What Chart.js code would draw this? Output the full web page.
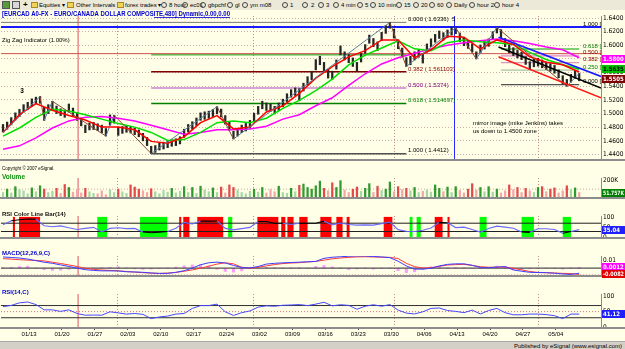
<!DOCTYPE html>
<html>
<head>
<meta charset="utf-8">
<script src="https://cdn.jsdelivr.net/npm/chart.js@4.4.1/dist/chart.umd.min.js"></script>
<style>
html, body { margin: 0; padding: 0; }
body { width: 625px; height: 349px; overflow: hidden; position: relative; background: #d4d0c8; font-family: "Liberation Sans", Arial, sans-serif; }
#toolbar { position: absolute; left: 0; top: 0; width: 625px; height: 10px; background: #ece9d8; font-size: 6px; line-height: 10px; color: #000; }
#toolbar span { position: absolute; top: 0; white-space: nowrap; }
#toolbar .ic { top: 2px; width: 6px; height: 6px; border: 1px solid #444; border-radius: 50%; box-sizing: border-box; }
#toolbar .fd { top: 2px; width: 7px; height: 6px; background: #f2d25a; border: 1px solid #a88a20; box-sizing: border-box; }
#toolbar .sq { top: 1px; width: 8px; height: 8px; box-sizing: border-box; border: 1px solid #555; }
#paper { position: absolute; left: 0; top: 10px; width: 625px; height: 331px; background: #fffee6; }
canvas { position: absolute; left: 0; }
#foot { position: absolute; left: 0; top: 341px; width: 625px; height: 8px; background: #d4d0c8; border-top: 1px solid #a8a8a8; }
#foot span { position: absolute; right: 3px; top: 0; font-size: 6px; line-height: 8px; color: #000; }
</style>
</head>
<body>
<div id="toolbar">
  <span class="sq" style="left:2px;background:#5a9a3a"></span>
  <span class="sq" style="left:12px;background:#d8d8d8"></span>
  <span style="left:23px;font-weight:bold;font-size:8px">+</span>
  <span class="fd" style="left:31px"></span><span style="left:39px">Equities ▾</span>
  <span class="fd" style="left:67px"></span><span style="left:76px">Other Intervals ▾</span>
  <span class="fd" style="left:117px"></span><span style="left:125px">forex trades ▾</span>
  <span class="ic" style="left:161px"></span><span style="left:169px">8 hour</span>
  <span class="ic" style="left:182px"></span><span style="left:190px">ec01</span>
  <span class="ic" style="left:200px"></span><span style="left:208px">gbpchf</span>
  <span class="ic" style="left:227px"></span><span style="left:235px">gl</span>
  <span class="ic" style="left:242px"></span><span style="left:250px">ym m08</span>
  <span class="ic" style="left:282px"></span><span style="left:290px">1</span>
  <span class="ic" style="left:302px"></span><span style="left:311px">2</span>
  <span class="ic" style="left:318px"></span><span style="left:326px">3</span>
  <span class="ic" style="left:333px"></span><span style="left:341px">4 min</span>
  <span class="ic" style="left:357px"></span><span style="left:365px">5</span>
  <span class="ic" style="left:370px"></span><span style="left:378px">10 min</span>
  <span class="ic" style="left:396px"></span><span style="left:404px">15</span>
  <span class="ic" style="left:413px"></span><span style="left:421px">20</span>
  <span class="ic" style="left:429px"></span><span style="left:437px">60</span>
  <span class="ic" style="left:446px"></span><span style="left:454px">Daily</span>
  <span class="ic" style="left:469px"></span><span style="left:477px">hour 2</span>
  <span class="ic" style="left:494px"></span><span style="left:502px">hour 4</span>
</div>
<div id="paper"></div>
<canvas id="price" width="625" height="162" style="top:10px"></canvas>
<canvas id="volume" width="625" height="38" style="top:172px"></canvas>
<canvas id="rsibar" width="625" height="40" style="top:210px"></canvas>
<canvas id="macd" width="625" height="38" style="top:250px"></canvas>
<canvas id="rsi" width="625" height="52" style="top:288px"></canvas>
<div id="foot"><span>Published by eSignal (www.esignal.com)</span></div>
<script>
// ---- data (x unit = one 8-hour bar as sampled, 8 per week) ----
var dateLabels = ['01/13','01/20','01/27','02/03','02/10','02/17','02/24','03/02','03/09','03/16','03/23','03/30','04/06','04/13','04/20','04/27','05/04'];
var firstLabelBar = 6.33;
var barsPerWeek = 8;
var monthBars = [27.7, 60.8, 94.9, 129.9];
var markerBar = 18.25;
var blueMarkBar = 109.5;

var highs = [1.4840,1.4875,1.4940,1.5010,1.5060,1.5130,1.5165,1.5215,1.5240,1.5250,
  1.5090,1.5130,1.5180,1.5110,1.5070,1.5050,1.5140,1.5080,1.5010,1.4935,
  1.4830,1.4860,1.4870,1.4850,1.4830,1.4780,1.4980,1.4975,1.4800,1.4810,
  1.4825,1.4810,1.4785,1.4760,1.4710,1.4650,1.4520,1.4530,1.4565,1.4580,
  1.4600,1.4615,1.4630,1.4660,1.4770,1.4840,1.4880,1.4935,1.5010,1.5025,
  1.5035,1.5060,1.5100,1.5065,1.4970,1.4875,1.4740,1.4780,1.4830,1.4855,
  1.4900,1.5005,1.5105,1.5180,1.5155,1.5140,1.5105,1.5155,1.5210,1.5290,
  1.5350,1.5375,1.5365,1.5445,1.5540,1.5620,1.5790,1.5840,1.5750,1.5650,
  1.5620,1.5785,1.5990,1.5905,1.5865,1.5815,1.5750,1.5880,1.6010,1.6150,
  1.6100,1.6050,1.6190,1.6290,1.6336,1.6235,1.6080,1.5960,1.5820,1.5840,
  1.5905,1.5940,1.5870,1.6020,1.6095,1.6160,1.6210,1.6185,1.6225,1.6260,
  1.6255,1.6180,1.6110,1.6070,1.6020,1.5905,1.6005,1.6055,1.6095,1.6200,
  1.6262,1.6230,1.6100,1.6005,1.5965,1.5925,1.5900,1.5835,1.5760,1.5795,
  1.5810,1.5785,1.5755,1.5730,1.5705,1.5640,1.5555,1.5500,1.5575,1.5625,
  1.5590];
var lows = [1.4730,1.4770,1.4835,1.4905,1.4955,1.5020,1.5060,1.5110,1.5140,1.5150,
  1.4900,1.5000,1.5060,1.5000,1.4970,1.4945,1.5020,1.4970,1.4900,1.4820,
  1.4720,1.4760,1.4765,1.4750,1.4720,1.4670,1.4830,1.4860,1.4680,1.4710,
  1.4725,1.4715,1.4690,1.4660,1.4600,1.4530,1.4412,1.4430,1.4465,1.4480,
  1.4500,1.4520,1.4530,1.4555,1.4650,1.4730,1.4770,1.4825,1.4900,1.4915,
  1.4930,1.4955,1.4995,1.4950,1.4845,1.4755,1.4627,1.4670,1.4720,1.4745,
  1.4785,1.4885,1.4990,1.5070,1.5045,1.5030,1.4995,1.5045,1.5100,1.5175,
  1.5240,1.5265,1.5190,1.5330,1.5420,1.5495,1.5640,1.5715,1.5625,1.5520,
  1.5500,1.5650,1.5860,1.5785,1.5745,1.5690,1.5620,1.5755,1.5885,1.6030,
  1.5980,1.5925,1.6070,1.6175,1.6250,1.6105,1.5950,1.5830,1.5690,1.5715,
  1.5785,1.5825,1.5740,1.5900,1.5980,1.6045,1.6100,1.6075,1.6115,1.6150,
  1.6170,1.6055,1.5995,1.5955,1.5900,1.5800,1.5890,1.5945,1.5985,1.6085,
  1.6180,1.6110,1.5980,1.5890,1.5850,1.5815,1.5790,1.5720,1.5645,1.5685,
  1.5695,1.5670,1.5645,1.5620,1.5590,1.5525,1.5435,1.5400,1.5460,1.5515,
  1.5480];
// thousands
var volumes = [60,100,55,130,95,80,45,115,70,140,100,60,75,110,50,155,120,65,90,55,
  110,70,50,45,80,35,95,60,100,70,50,150,125,100,80,60,105,70,45,85,
  65,110,55,75,130,60,120,50,135,90,70,115,60,125,55,150,120,90,60,45,
  75,100,65,120,55,95,70,135,60,50,110,70,145,160,120,100,140,195,110,80,
  175,120,200,90,60,100,125,75,110,165,60,135,85,100,185,70,130,95,110,80,
  120,60,75,90,65,150,110,70,125,60,130,85,55,100,165,90,120,70,130,65,
  100,55,80,150,95,120,60,110,80,60,120,130,70,100,115,55,80,140,95,115,60];

// moving averages, one value every 4 bars
var maStep = 4;
var maFast = [1.4723,1.4983,1.5146,1.5049,1.4970,1.4905,1.4801,1.4801,1.4762,1.4592,1.4566,1.4657,1.4866,1.4970,1.4775,1.4801,1.5023,1.5114,1.5296,1.5518,1.5687,1.5831,1.5922,1.6079,1.6079,1.5818,1.5935,1.6131,1.6118,1.5948,1.6079,1.6013,1.5831,1.5753,1.5714,1.5609];
var maMid = [1.4670,1.4788,1.4944,1.5062,1.5036,1.4983,1.4918,1.4853,1.4801,1.4723,1.4605,1.4618,1.4723,1.4866,1.4892,1.4866,1.4931,1.5075,1.5192,1.5335,1.5505,1.5714,1.5857,1.5961,1.6066,1.5948,1.5922,1.6039,1.6079,1.6053,1.6039,1.6013,1.5896,1.5792,1.5714,1.5648];
var maSlow = [1.4475,1.4527,1.4644,1.4788,1.4892,1.4944,1.4957,1.4931,1.4892,1.4827,1.4762,1.4697,1.4723,1.4762,1.4762,1.4775,1.4814,1.4918,1.4983,1.5114,1.5231,1.5414,1.5583,1.5727,1.5818,1.5883,1.5948,1.6000,1.6039,1.6066,1.6092,1.6066,1.6026,1.5974,1.5935,1.5818];

// fibonacci sets and drawn lines
var leftFibFrom = 36, leftFibTo = 98;
var leftFibLevels = [1.6336, 1.5860, 1.5611, 1.5374, 1.5147, 1.4412];
var leftFibText = ['0.000 ( 1.6336)  5', '', '0.382 ( 1.561103)', '0.500 ( 1.5374)', '0.618 ( 1.514697)', '1.000 ( 1.4412)'];
var rightFibFrom = 121, rightFibTo = 140;
var rightFibLevels = [1.6270, 1.5946, 1.5847, 1.5747, 1.5635, 1.5423];
var rightFibText = ['1.000 [', '0.618 [', '0.500 [', '0.382 [', '0.250 [', '0.000 ['];
var resistLevel = 1.5878;
var channelFrom = 120.4, channelTo = 145.3;
var channelBlue = [1.6118, 1.5544];
var channelBlack = [1.5974, 1.5374];
var channelRed = [1.5831, 1.5231];
var zigzag = [[0,1.4723],[9,1.5250],[10,1.4900],[12,1.5180],[25,1.4670],[27,1.4975],[36,1.4412],[52,1.5100],[56,1.4627],[94,1.6336],[98,1.5690],[110,1.6255],[115,1.5800],[120,1.6262],[137,1.5400],[140,1.5590]];

// indicators, one value every 2 bars
var indStep = 2;
var rsiBarVals = [62,82,87,90,89,58,53,57,48,40,45,50,28,45,48,44,45,28,24,27,30,46,74,66,80,80,81,45,38,44,50,78,78,70,70,64,70,70,70,80,62,71,64,61,62,61,68,76,39,31,30,36,47,74,72,49,51,40,27,45,56,51,46,28,26,43,43,40,22,30,39];
var redBands = [[2.4,2.9],[3.9,9.0],[42.8,43.3],[43.8,45.3],[47.2,53.5],[61.8,66.9],[67.6,68.6],[69.1,70.6],[72.0,74.0],[77.1,79.8],[81.0,82.5],[83.5,84.2],[92.5,94.6],[104.9,106.8],[108.0,108.5]];
var greenBands = [[22.9,25.3],[33.3,39.9],[54.7,55.7],[98.8,99.5],[100.5,101.5],[115.8,117.5],[126.0,129.0],[136.0,138.0]];
// MACD in units of 0.001
var macdLine = [14.9,14.2,13.5,12.1,10.0,7.9,6.5,4.4,2.3,0.2,-1.9,-2.9,-3.5,-3.5,-3.6,-4.7,-4.9,-5.4,-6.3,-6.8,-6.8,-5.4,-3.3,0.2,4.6,7.2,8.1,6.9,3.7,0.9,0.4,2.3,5.5,6.5,7.1,7.6,8.0,8.5,9.0,13.1,14.5,15.2,15.8,16.2,16.1,15.5,14.9,14.0,9.3,3.0,-1.2,-1.2,0,3.0,5.1,5.8,5.8,3.9,0.9,0.6,1.6,2.0,-2.2,-4.0,-5.4,-5.7,-5.9,-6.6,-7.6,-8.2,-6.6];
var macdSignal = [12.7,12.0,11.3,10.7,10.3,9.7,7.9,6.2,4.4,2.3,-0.1,-1.5,-2.4,-2.9,-3.5,-4.3,-5.2,-5.9,-6.4,-6.9,-6.4,-5.6,-4.0,-2.2,0,2.7,5.5,7.2,5.8,1.3,0,1.3,3.1,4.8,6.2,6.9,7.3,8.3,9.0,10.7,12.4,13.5,14.3,15.0,15.2,14.9,14.5,14.4,12.8,6.5,2.1,0.2,0.6,2.5,4.2,4.8,5.1,3.7,2.0,1.3,1.4,1.7,-0.1,-2.2,-4.3,-5.6,-5.9,-6.3,-6.8,-7.0,-8.2];
var macdHist = [0.5,1.2,2.2,2.7,0.3,-2.0,-2.8,-2.6,-1.5,-0.6,0.2,-0.3,0.6,1.2,1.9,0.5,-0.8,-1.6,-1.2,-0.4,0.3,1.5,3.2,4.4,4.6,3.0,-1.5,-4.2,-5.2,-3.5,0.5,1.6,1.2,0.8,-0.6,0.5,0.9,-0.4,2.5,3.7,1.8,0.6,-1.9,-1.0,0.3,-1.2,-0.5,0.3,-3.2,-5.9,-4.8,-1.5,2.0,2.3,0.8,0.9,0.6,0.3,-0.5,0.8,2.8,2.2,-2.3,-1.8,-0.8,-0.4,0.2,-0.5,-1.2,0.4,1.2];
var rsiVals = [66.3,70.5,78.9,81.7,73.3,55.9,55.9,50.9,55.9,43.9,38.3,38.9,38.3,49.5,45.9,42,43.9,41.1,27.1,32.7,35.5,42,43.9,60.7,69.9,69.9,74.7,49.5,37.5,46.7,52.3,64.9,69.1,67.7,71,71.9,73.3,69.9,74.7,80.8,69.1,72.7,70.5,57.9,67.7,72.7,67.7,73.3,55.1,45.3,42.5,49.5,60.7,62.1,53.7,50.9,46.7,55.1,42.5,53.7,60.7,46.7,39.7,39.7,42,42,40.3,36.9,27.1,42,42];

var priceTicks = [1.44,1.46,1.48,1.50,1.52,1.54,1.56,1.58,1.60,1.62,1.64];

// ---- drawing ----
var X_MIN = -0.49, X_MAX = 145.3;
var FONT = '"Liberation Sans", "DejaVu Sans", sans-serif';
var NARROW = '"Liberation Sans Narrow", "DejaVu Sans Condensed", "Liberation Sans", sans-serif';

function series(vals, step) {
    return vals.map(function (v, i) { return { x: i * step, y: v }; });
}
function seg(x0, x1, y0, y1, color, width, order, dash) {
    return { type: 'line', data: [{ x: x0, y: y0 }, { x: x1, y: y1 }], borderColor: color,
        borderWidth: width || 1, borderDash: dash || [], pointRadius: 0, order: order || 0 };
}
function curve(data, color, width, order) {
    return { type: 'line', data: data, borderColor: color, borderWidth: width || 1,
        pointRadius: 0, tension: 0, order: order || 0 };
}

var panelPlugin = {
    id: 'panel',
    beforeDatasetsDraw: function (chart, args, o) {
        var ctx = chart.ctx, a = chart.chartArea, x = chart.scales.x;
        ctx.save();
        ctx.beginPath(); ctx.rect(a.left, a.top, a.right - a.left, a.bottom - a.top); ctx.clip();
        (o.bands || []).forEach(function (b) {
            ctx.fillStyle = b.color;
            b.ranges.forEach(function (r) {
                var p0 = x.getPixelForValue(r[0]), p1 = x.getPixelForValue(r[1]);
                ctx.fillRect(p0, a.top + 1, Math.max(2, p1 - p0), a.bottom - a.top - 2);
            });
        });
        ctx.lineWidth = 1; ctx.strokeStyle = '#b88484'; ctx.setLineDash([1, 2]);
        monthBars.forEach(function (m) {
            var p = Math.round(x.getPixelForValue(m)) + 0.5;
            ctx.beginPath(); ctx.moveTo(p, a.top); ctx.lineTo(p, a.bottom); ctx.stroke();
        });
        ctx.setLineDash([]);
        ctx.strokeStyle = '#e88c8c'; ctx.lineWidth = 1.5;
        var p = x.getPixelForValue(markerBar);
        ctx.beginPath(); ctx.moveTo(p, a.top); ctx.lineTo(p, a.bottom); ctx.stroke();
        if (o.blueMark) {
            ctx.strokeStyle = '#2828ff'; ctx.lineWidth = 1;
            p = Math.round(x.getPixelForValue(blueMarkBar)) + 0.5;
            ctx.beginPath(); ctx.moveTo(p, a.top); ctx.lineTo(p, a.bottom); ctx.stroke();
        }
        ctx.restore();
    },
    afterDraw: function (chart, args, o) {
        var ctx = chart.ctx, a = chart.chartArea, x = chart.scales.x, y = chart.scales.y;
        ctx.save();
        ctx.fillStyle = '#8c8c8c';
        ctx.fillRect(0, a.bottom - 1, chart.width, 2);
        ctx.fillRect(a.right, a.top, 1, a.bottom - a.top);
        (o.texts || []).forEach(function (t) {
            ctx.font = t.font || ('6px ' + FONT);
            ctx.fillStyle = t.color || '#000';
            ctx.textAlign = 'left';
            ctx.textBaseline = 'middle';
            var px = t.data ? x.getPixelForValue(t.x) : t.x;
            var py = (t.data ? y.getPixelForValue(t.y) : t.y) + (t.dy || 0);
            if (t.maxWidth) ctx.fillText(t.text, px, py, t.maxWidth); else ctx.fillText(t.text, px, py);
            if (t.underline) {
                ctx.fillRect(px + t.underline[0], py + 3, t.underline[1], 0.8);
            }
        });
        (o.boxes || []).forEach(function (b) {
            var py = Math.round(y.getPixelForValue(b.v));
            ctx.fillStyle = b.bg;
            ctx.fillRect(a.right + 1, py - 4, chart.width - a.right - 1, 8);
            ctx.fillStyle = b.fg;
            ctx.font = 'bold 6px ' + NARROW;
            ctx.textAlign = 'left'; ctx.textBaseline = 'middle';
            ctx.fillText(b.t, a.right + 2, py + 0.5, chart.width - a.right - 3);
        });
        ctx.restore();
    }
};

function makeOptions(yMin, yMax, ticks, fmt, gridOn, panelOpts, showX) {
    return {
        responsive: false, animation: false, devicePixelRatio: 1, events: [],
        layout: { padding: { left: 1, right: 0, top: 0, bottom: 0 }, autoPadding: false },
        plugins: { legend: { display: false }, tooltip: { enabled: false }, panel: panelOpts },
        scales: {
            x: {
                type: 'linear', min: X_MIN, max: X_MAX, offset: false, display: !!showX,
                afterFit: function (s) { s.height = 12; },
                afterBuildTicks: function (s) {
                    s.ticks = dateLabels.map(function (d, i) { return { value: firstLabelBar + barsPerWeek * i }; });
                },
                ticks: { autoSkip: false, maxRotation: 0, padding: 1, color: '#000',
                    font: { size: 6, family: FONT }, callback: function (v, i) { return dateLabels[i]; } },
                grid: { drawOnChartArea: false, tickLength: 2, color: '#444' },
                border: { display: false }
            },
            y: {
                position: 'right', min: yMin, max: yMax,
                afterFit: function (s) { s.width = 24; },
                afterBuildTicks: function (s) { s.ticks = ticks.map(function (v) { return { value: v }; }); },
                ticks: { padding: 2, color: '#000', font: { size: 6.5, family: NARROW }, callback: fmt },
                grid: { display: gridOn, color: '#cfaeae', drawTicks: false, lineWidth: 1 },
                border: { display: false, dash: [1, 2] }
            }
        }
    };
}

// price panel
var leftColors = ['#7a7a7a', '#00a000', '#800000', '#d8a2d8', '#008000', '#505050'];
var leftWidths = [1, 1, 1.5, 2, 1.5, 1.5];
var leftLabelColors = ['#000', '#000', '#800000', '#800080', '#008000', '#000'];
var rightColors = ['#404040', '#00a000', '#e6a8d0', '#d89ab8', '#a8c4a0', '#505050'];
var rightLabelColors = ['#000', '#008000', '#800000', '#800000', '#008000', '#000'];

var priceSets = [];
priceSets.push(seg(X_MIN, X_MAX, rightFibLevels[0], rightFibLevels[0], '#1a1aff', 2, 6));
priceSets.push(seg(X_MIN, X_MAX, resistLevel, resistLevel, '#d05050', 1, 6));
leftFibLevels.forEach(function (v, i) {
    priceSets.push(seg(i === 0 ? X_MIN : leftFibFrom, leftFibTo, v, v, leftColors[i], leftWidths[i], 6));
});
rightFibLevels.forEach(function (v, i) {
    if (i === 0) return;
    priceSets.push(seg(rightFibFrom, rightFibTo, v, v, rightColors[i], i === 2 ? 2 : 1.2, 6));
});
priceSets.push({ type: 'bar', data: highs.map(function (h, i) { return { x: i, y: [lows[i], h] }; }),
    backgroundColor: '#262626', barThickness: 1.6, order: 4 });
priceSets.push(curve(series(maSlow, maStep), '#ff00ff', 1.5, 3));
priceSets.push(curve(series(maMid, maStep), '#00e000', 1.5, 2));
priceSets.push(curve(series(maFast, maStep), '#ff0000', 1.5, 1));
priceSets.push(seg(channelFrom, channelTo, channelBlue[0], channelBlue[1], '#1a1aff', 1.6, 0));
priceSets.push(seg(channelFrom, channelTo, channelBlack[0], channelBlack[1], '#000000', 1.6, 0));
priceSets.push(seg(channelFrom, channelTo, channelRed[0], channelRed[1], '#ff1a1a', 1.6, 0));
priceSets.push({ type: 'line', data: zigzag.map(function (p) { return { x: p[0], y: p[1] }; }),
    borderWidth: 1, pointRadius: 0, order: 0,
    segment: { borderColor: function (c) { return c.p1.parsed.y > c.p0.parsed.y ? '#5a7f9a' : '#8a4a3a'; } } });

var priceTexts = [
    { x: 2, y: 4, text: '[EURCAD A0-FX - EURO/CANADA DOLLAR COMPOSITE,480] Dynamic,0.00,0.00', color: '#0000d0',
      font: 'bold 6.5px ' + FONT, maxWidth: 228, underline: [152, 76] },
    { x: 2, y: 30, text: 'Zig Zag Indicator (1.00%)', font: '6px ' + FONT },
    { data: true, x: 4.2, y: 1.5322, text: '3', font: 'bold 6.5px ' + FONT },
    { data: true, x: 114.2, y: 1.4853, text: 'mirror image (mike Jenkins) takes', font: '6px ' + FONT },
    { data: true, x: 114.2, y: 1.4736, text: 'us down to 1.4500 zone', font: '6px ' + FONT },
    { x: 2, y: 158.5, text: 'Copyright \u00a9 2007 eSignal.', font: '4.5px ' + FONT }
];
leftFibText.forEach(function (t, i) {
    if (t) priceTexts.push({ data: true, x: leftFibTo + 0.4, y: leftFibLevels[i], dy: -3, text: t, color: leftLabelColors[i], font: '6px ' + FONT });
});
rightFibText.forEach(function (t, i) {
    priceTexts.push({ data: true, x: rightFibTo + 0.9, y: rightFibLevels[i], dy: -3, text: t, color: rightLabelColors[i], font: '6px ' + FONT });
});

new Chart(document.getElementById('price'), {
    type: 'line',
    data: { datasets: priceSets },
    options: makeOptions(1.4319, 1.6431, priceTicks, function (v) { return v.toFixed(4); }, true, {
        blueMark: true, texts: priceTexts,
        boxes: [
            { v: 1.5800, bg: '#ff00ff', fg: '#ffffff', t: '1.5800' },
            { v: 1.5648, bg: '#00c000', fg: '#000000', t: '1.5635' },
            { v: 1.5505, bg: '#800000', fg: '#ffffff', t: '1.5505' }
        ]
    }),
    plugins: [panelPlugin]
});

// volume panel
function midOf(i) { return (highs[i] + lows[i]) / 2; }
new Chart(document.getElementById('volume'), {
    type: 'line',
    data: { datasets: [{
        type: 'bar', data: volumes.map(function (v, i) { return { x: i, y: v }; }), barThickness: 1.6,
        backgroundColor: function (c) {
            var i = c.dataIndex, up = i === 0 || midOf(i) >= midOf(i - 1), strong = volumes[i] >= 100;
            return up ? (strong ? '#2f9a2f' : '#a6d8a6') : (strong ? '#e24a4a' : '#f3a8a8');
        }
    },
    seg(X_MIN, X_MAX, 100, 100, '#c8a8a8', 1, 5, [1, 2])] },
    options: makeOptions(-4.4, 233, [0, 100, 200], function (v) { return v === 0 ? '0' : v + 'K'; }, false, {
        texts: [{ x: 2, y: 5, text: 'Volume', color: '#109010', font: 'bold 6.5px ' + FONT }],
        boxes: [{ v: 51, bg: '#008000', fg: '#ffffff', t: '51.757K' }]
    }),
    plugins: [panelPlugin]
});

// RSI colour bar panel
new Chart(document.getElementById('rsibar'), {
    type: 'line',
    data: { datasets: [
        seg(X_MIN, X_MAX, 70, 70, '#202020', 1, 5),
        seg(X_MIN, X_MAX, 30, 30, '#202020', 1, 5),
        { type: 'line', data: series(rsiBarVals, indStep), borderWidth: 1.1, pointRadius: 0, order: 0,
          segment: { borderColor: function (c) {
              var a = c.p0.parsed.y, b = c.p1.parsed.y;
              return (a >= 70 && b >= 70) || (a <= 30 && b <= 30) ? '#000000' : '#6a6aff';
          } } }
    ] },
    options: makeOptions(-1.33, 105.3, [0, 50, 100], function (v) { return String(v); }, false, {
        bands: [{ color: '#ff0000', ranges: redBands }, { color: '#00ff00', ranges: greenBands }],
        texts: [{ x: 2, y: 4.5, text: 'RSI Color Line Bar(14)', color: '#101010', font: 'bold 6px ' + FONT }],
        boxes: [{ v: 39, bg: '#2020ff', fg: '#ffffff', t: '35.04' }]
    }),
    plugins: [panelPlugin]
});

// MACD panel
new Chart(document.getElementById('macd'), {
    type: 'line',
    data: { datasets: [
        { type: 'bar', data: series(macdHist, indStep), backgroundColor: '#ff9cff', barThickness: 2.5, order: 4 },
        seg(X_MIN, X_MAX, 0, 0, '#505050', 1.2, 3),
        seg(X_MIN, X_MAX, -9, -9, '#e07070', 1, 3, [1, 2]),
        curve(series(macdSignal, indStep), '#ff3a3a', 1, 1),
        curve(series(macdLine, indStep), '#3c3cff', 1, 0)
    ] },
    options: makeOptions(-10.28, 16.29, [10], function () { return '0.01'; }, false, {
        texts: [{ x: 2, y: 3.5, text: 'MACD(12,26,9,C)', color: '#0000d0', font: 'bold 6px ' + FONT }],
        boxes: [{ v: 1.2, bg: '#ff00ff', fg: '#ffffff', t: '0.0012' }, { v: -7.8, bg: '#e00000', fg: '#ffffff', t: '-0.0082' }]
    }),
    plugins: [panelPlugin]
});

// RSI panel with date axis
new Chart(document.getElementById('rsi'), {
    type: 'line',
    data: { datasets: [
        seg(X_MIN, X_MAX, 70, 70, '#303030', 1, 5),
        seg(X_MIN, X_MAX, 30, 30, '#303030', 1, 5),
        seg(X_MIN, X_MAX, 50, 50, '#d07070', 1, 5, [1, 2]),
        curve(series(rsiVals, indStep), '#4848ff', 1, 0)
    ] },
    options: makeOptions(-3.64, 108.25, [0, 50, 100], function (v) { return String(v); }, false, {
        texts: [{ x: 2, y: 4, text: 'RSI(14,C)', color: '#0000d0', font: 'bold 6px ' + FONT }],
        boxes: [{ v: 42, bg: '#2020ff', fg: '#ffffff', t: '41.12' }]
    }, true),
    plugins: [panelPlugin]
});
</script>
</body>
</html>
